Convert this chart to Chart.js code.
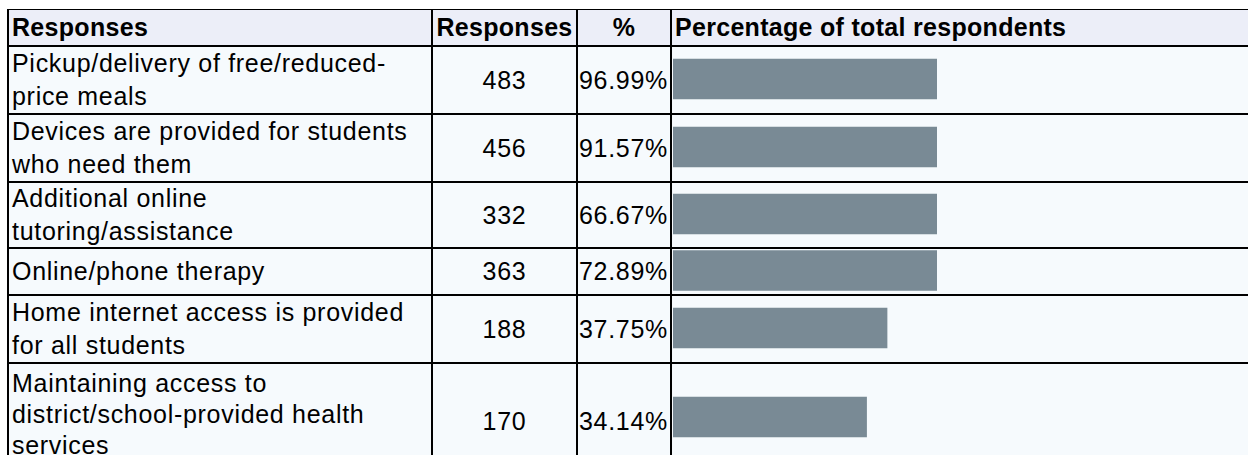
<!DOCTYPE html>
<html>
<head>
<meta charset="utf-8">
<script src="https://cdn.jsdelivr.net/npm/chart.js@4.4.1/dist/chart.umd.min.js"></script>
<style>
  html, body { margin: 0; padding: 0; background: #ffffff; }
  body { width: 1248px; height: 455px; overflow: hidden; position: relative;
         font-family: "Liberation Sans", Arial, Helvetica, sans-serif; color: #000; }
  .cell { position: absolute; box-sizing: border-box; border-left: 2px solid #000; border-top: 2px solid #000;
          display: flex; align-items: center; font-size: 25px; letter-spacing: 0.7px; line-height: 33px;
          white-space: pre; overflow: hidden; }
  .hdr { background: #eceef8; font-weight: bold; letter-spacing: 0.3px; border-top-width: 1px; }
  .body { background: #f6fafd; }
  .left { justify-content: flex-start; padding-left: 3px; }
  .center { justify-content: center; }
  canvas.bar { position: absolute; }
</style>
</head>
<body>
<div id="root"></div>
<script>
// ---- data ----
const headers = ["Responses", "Responses", "%", "Percentage of total respondents"];
const categories = [
  ["Pickup/delivery of free/reduced-", "price meals"],
  ["Devices are provided for students", "who need them"],
  ["Additional online", "tutoring/assistance"],
  ["Online/phone therapy"],
  ["Home internet access is provided", "for all students"],
  ["Maintaining access to", "district/school-provided health", "services"]
];
const responses = [483, 456, 332, 363, 188, 170];
const percentLabels = ["96.99%", "91.57%", "66.67%", "72.89%", "37.75%", "34.14%"];
const percentValues = [96.99, 91.57, 66.67, 72.89, 37.75, 34.14];

// ---- layout ----
const colX = [7, 431, 576, 670, 1250];
const rowY = [9, 45, 113, 181, 247, 294, 362, 478];
const barLeft = 673, barFullWidth = 567, barVisibleWidth = 264;

const root = document.getElementById('root');
function cell(cls, x0, x1, y0, y1, text) {
  const d = document.createElement('div');
  d.className = 'cell ' + cls;
  d.style.left = x0 + 'px'; d.style.width = (x1 - x0) + 'px';
  d.style.top = y0 + 'px'; d.style.height = (y1 - y0) + 'px';
  if (text !== undefined) { const s = document.createElement('span'); s.textContent = text; d.appendChild(s); }
  root.appendChild(d);
  return d;
}
// header
cell('hdr left', colX[0], colX[1], rowY[0], rowY[1], headers[0]);
cell('hdr center', colX[1], colX[2], rowY[0], rowY[1], headers[1]);
cell('hdr center', colX[2], colX[3], rowY[0], rowY[1], headers[2]);
cell('hdr left', colX[3], colX[4], rowY[0], rowY[1], headers[3]);

categories.forEach((lab, i) => {
  const y0 = rowY[i + 1], y1 = rowY[i + 2];
  const c = cell('body left', colX[0], colX[1], y0, y1, lab.join('\n'));
  if (lab.length > 2) { c.style.paddingBottom = '14px'; c.style.lineHeight = '31px'; }
  cell('body center', colX[1], colX[2], y0, y1, String(responses[i]));
  const p = cell('body left', colX[2], colX[3], y0, y1, percentLabels[i]);
  p.style.paddingLeft = '1px';
  cell('body', colX[3], colX[4], y0, y1);
  const cv = document.createElement('canvas');
  cv.className = 'bar';
  const h = Math.min(y1, 472) - y0 - 2;
  cv.width = barFullWidth; cv.height = h;
  cv.style.left = barLeft + 'px'; cv.style.top = (y0 + 1) + 'px';
  root.appendChild(cv);
  new Chart(cv, {
    type: 'bar',
    data: {
      labels: [lab.join(' ')],
      datasets: [{
        data: [percentValues[i]],
        backgroundColor: '#798a95',
        borderWidth: 0,
        barThickness: 40,
        clip: { left: 0, top: 0, bottom: 0, right: -(barFullWidth - barVisibleWidth) }
      }]
    },
    options: {
      indexAxis: 'y',
      responsive: false,
      animation: false,
      events: [],
      layout: { padding: 0 },
      plugins: { legend: { display: false }, tooltip: { enabled: false } },
      scales: {
        x: { display: false, min: 0, max: 100 },
        y: { display: false }
      }
    }
  });
});
</script>
</body>
</html>
